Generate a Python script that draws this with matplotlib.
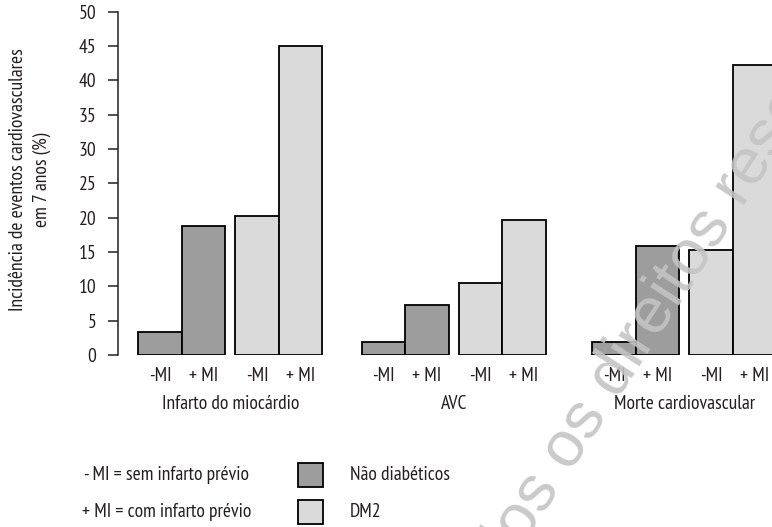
import matplotlib
matplotlib.use("Agg")
import matplotlib.pyplot as plt
from matplotlib.patches import Rectangle
import numpy as np

plt.rcParams['font.family'] = ['PT Sans Narrow', 'DejaVu Sans']

# Data: 7-year incidence (%) of cardiovascular events
groups = ["Infarto do miocárdio", "AVC", "Morte cardiovascular"]
mi_labels = ["-MI", "+ MI"]
nao_diabeticos = [[3.4, 18.8], [1.85, 7.3], [1.9, 15.9]]
dm2 = [[20.3, 45.0], [10.5, 19.7], [15.3, 42.2]]
yticks = [0, 5, 10, 15, 20, 25, 30, 35, 40, 45, 50]

c_nd = "#9d9d9d"
c_dm = "#dadada"
ink = "#231f20"
fs = 14

W, H = 772, 527
fig = plt.figure(figsize=(W / 100, H / 100), dpi=100)
ax = fig.add_axes([118 / W, 1 - 355 / H, 1 - 118 / W, (355 - 11.7) / H])

group_start = [0.0, 5.135, 10.44]
pair_offset = [0.0, 2.23]
centers, labels = [], []
for g, start in enumerate(group_start):
    for s, (vals, col) in enumerate([(nao_diabeticos[g], c_nd), (dm2[g], c_dm)]):
        lefts = start + pair_offset[s] + np.arange(2)
        ax.bar(lefts, vals, width=1.0, align='edge', color=col,
               edgecolor='black', linewidth=1.3, zorder=2)
        centers.extend(lefts + 0.5)
        labels.extend(mi_labels)
    ax.annotate(groups[g], xy=(start + 2.115, 0), xycoords=('data', 'axes fraction'),
                xytext=(0, -35), textcoords='offset points', ha='center', va='center',
                fontsize=fs, color=ink, annotation_clip=False)

ax.set_xlim(-0.467, (W - 138.3) / 43.5)
ax.set_ylim(0, 50)
ax.set_yticks(yticks)
ax.set_xticks(centers)
ax.set_xticklabels(labels, fontsize=fs, color=ink)
ax.tick_params(axis='x', length=0, pad=8.5)
ax.tick_params(axis='y', length=7.2, width=1.1, color=ink, pad=8.5,
               labelsize=fs, labelcolor=ink)
for side in ['top', 'right', 'bottom']:
    ax.spines[side].set_visible(False)
ax.spines['left'].set_linewidth(1.1)
ax.spines['left'].set_color(ink)
ax.patch.set_visible(False)

fig.text(30 / W, 1 - 180 / H, "Incidência de eventos cardiovasculares\nem 7 anos (%)",
         rotation=90, ha='center', va='center', multialignment='center',
         fontsize=fs, color=ink, linespacing=1.4)

# Legend
fig.text(167 / W, 1 - 475 / H, "- MI = sem infarto prévio", ha='center', va='center',
         fontsize=fs, color=ink)
fig.text(167 / W, 1 - 512 / H, "+ MI = com infarto prévio", ha='center', va='center',
         fontsize=fs, color=ink)
for (ytop, col, name) in [(462.7, c_nd, "Não diabéticos"), (500, c_dm, "DM2")]:
    fig.add_artist(Rectangle((298 / W, 1 - (ytop + 24) / H), 25 / W, 24 / H,
                             transform=fig.transFigure, facecolor=col,
                             edgecolor='black', linewidth=1.3))
    fig.text(350 / W, 1 - (ytop + 12) / H, name, ha='left', va='center',
             fontsize=fs, color=ink)

# Watermark
fig.text(677 / W, 1 - 276 / H, "Todos os direitos reservados", rotation=57,
         ha='center', va='center', rotation_mode='anchor', fontsize=47,
         family='Liberation Sans', color='#c4c4c4', alpha=0.9, zorder=10)

fig.savefig("out.png", dpi=100)
